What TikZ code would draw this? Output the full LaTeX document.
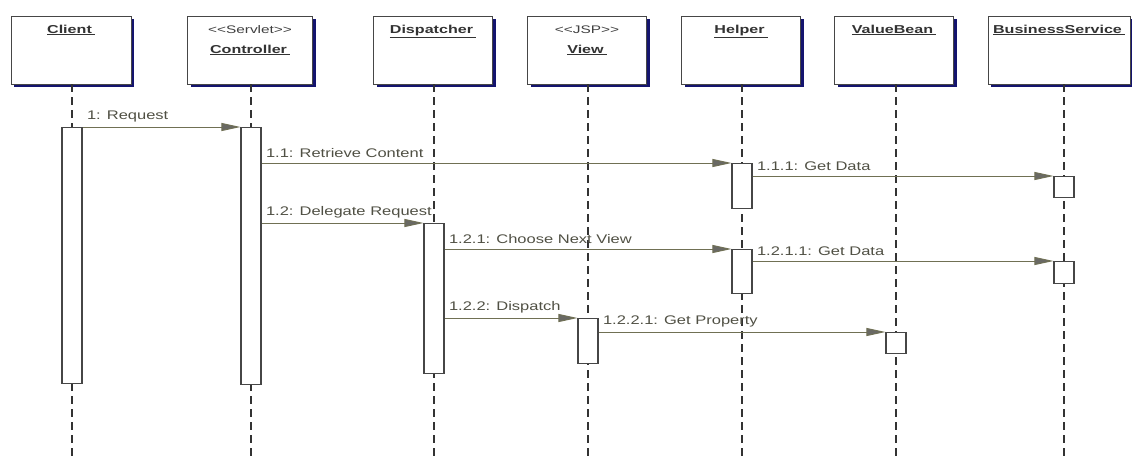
\documentclass[tikz,border=0pt]{standalone}
\usepackage{fontspec}
\setmainfont{Liberation Sans}
\newfontfamily\widesans[FakeStretch=1.32]{Liberation Sans}
\newfontfamily\widername[FakeStretch=1.4]{Liberation Sans}
\usetikzlibrary{arrows.meta}
\definecolor{msgline}{RGB}{112,112,84}
\definecolor{msgtext}{RGB}{80,80,68}
\definecolor{tipfill}{RGB}{105,105,100}
\definecolor{shadowblue}{RGB}{20,20,110}
\definecolor{frame}{RGB}{70,70,70}
\newcommand{\objtitle}[1]{\underline{#1\kern3pt}}
\tikzset{
  objbox/.style={draw=frame, fill=white, line width=0.9pt, minimum height=68pt,
    anchor=north, inner sep=0pt,
    preaction={fill=shadowblue, transform canvas={shift={(3pt,-3pt)}}}},
  objname/.style={anchor=base, font=\widername\fontsize{11.5}{13}\selectfont\bfseries,
    text=black!80, inner sep=0pt},
  stereo/.style={anchor=base, font=\widername\fontsize{11}{13}\selectfont,
    text=black!75, inner sep=0pt},
  lifeline/.style={draw=black!80, line width=1.1pt, dash pattern=on 8pt off 5pt},
  actbar/.style={draw=frame, fill=white, line width=1.1pt, minimum width=20pt,
    anchor=north, inner sep=0pt},
  msg/.style={draw=msgline, line width=0.9pt,
    -{Triangle[length=19pt,width=8pt,fill=tipfill,color=msgline]}},
  msglabel/.style={anchor=south west, font=\widesans\fontsize{12.5}{14}\selectfont,
    text=msgtext, inner sep=0pt, xshift=4pt, yshift=4.5pt}
}
\begin{document}
\begin{tikzpicture}[x=1pt,y=-1pt]
\useasboundingbox (0,0) rectangle (1132,456);

% object boxes along the top
\node[objbox, minimum width=120pt] (client) at (71,16) {};
\node[objbox, minimum width=125pt] (ctrl) at (250,16) {};
\node[objbox, minimum width=119pt] (disp) at (433,16) {};
\node[objbox, minimum width=119pt] (view) at (587,16) {};
\node[objbox, minimum width=119pt] (help) at (741,16) {};
\node[objbox, minimum width=119pt] (vb) at (894,16) {};
\node[objbox, minimum width=142pt] (bs) at (1059,16) {};

\node[objname] (tClient) at (71,33) {\objtitle{Client}};
\node[stereo]  (sCtrl)   at (250,33) {<{}<Servlet>{}>};
\node[objname] (tCtrl)   at (250,53) {\objtitle{Controller}};
\node[objname] (tDisp)   at (433,33) {\objtitle{Dispatcher}};
\node[stereo]  (sView)   at (587,33) {<{}<JSP>{}>};
\node[objname] (tView)   at (587,53) {\objtitle{View}};
\node[objname] (tHelp)   at (741,33) {\objtitle{Helper}};
\node[objname] (tVb)     at (894,33) {\objtitle{ValueBean}};
\node[objname] (tBs)     at (1059,33) {\objtitle{BusinessService}};

% lifelines
\foreach \n/\x in {client/72, ctrl/251, disp/434, view/588, help/742, vb/896, bs/1064}{
  \coordinate (\n Top) at (\x,84);
  \coordinate (\n Bot) at (\x,456);
  \draw[lifeline] (\n Top) -- (\n Bot);
}

% activation bars
\node[actbar, minimum height=256pt] (aClient) at (72,127) {};
\node[actbar, minimum height=257pt] (aCtrl)   at (251,127) {};
\node[actbar, minimum height=150pt] (aDisp)   at (434,223) {};
\node[actbar, minimum height=45pt]  (aView)   at (588,318) {};
\node[actbar, minimum height=45pt]  (aHelp1)  at (742,163) {};
\node[actbar, minimum height=44pt]  (aHelp2)  at (742,249) {};
\node[actbar, minimum height=21pt]  (aBs1)    at (1064,176) {};
\node[actbar, minimum height=22pt]  (aBs2)    at (1064,261) {};
\node[actbar, minimum height=21pt]  (aVb)     at (896,332) {};

% messages
\draw[msg] (aClient.north east) -- (aCtrl.north west)
  node[msglabel, pos=0] {1: Request};
\draw[msg] (aCtrl.east |- aHelp1.north) -- (aHelp1.north west)
  node[msglabel, pos=0] {1.1: Retrieve Content};
\draw[msg] (aHelp1.east |- aBs1.north) -- (aBs1.north west)
  node[msglabel, pos=0] {1.1.1: Get Data};
\draw[msg] (aCtrl.east |- aDisp.north) -- (aDisp.north west)
  node[msglabel, pos=0] {1.2: Delegate Request};
\draw[msg] (aDisp.east |- aHelp2.north) -- (aHelp2.north west)
  node[msglabel, pos=0] {1.2.1: Choose Next View};
\draw[msg] (aHelp2.east |- aBs2.north) -- (aBs2.north west)
  node[msglabel, pos=0] {1.2.1.1: Get Data};
\draw[msg] (aDisp.east |- aView.north) -- (aView.north west)
  node[msglabel, pos=0] {1.2.2: Dispatch};
\draw[msg] (aView.east |- aVb.north) -- (aVb.north west)
  node[msglabel, pos=0] {1.2.2.1: Get Property};
\end{tikzpicture}
\end{document}
